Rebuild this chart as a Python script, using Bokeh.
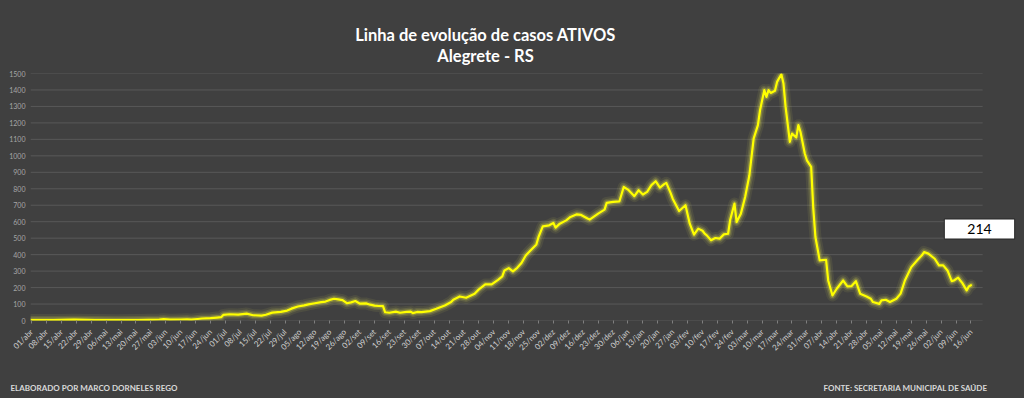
import pandas as pd
from math import pi
from bokeh.plotting import figure
from bokeh.layouts import column, row
from bokeh.models import FixedTicker, Label, Range1d
from bokeh.core.properties import value
from bokeh.embed import file_html
from bokeh.resources import INLINE

# ---------------- data ----------------
inicio = "01/04/2020"

datas = [
    "01/04/2020", "11/04/2020", "21/04/2020", "01/05/2020", "11/05/2020", "21/05/2020",
    "26/05/2020", "31/05/2020", "02/06/2020", "05/06/2020", "10/06/2020", "13/06/2020",
    "15/06/2020", "18/06/2020", "20/06/2020", "24/06/2020", "27/06/2020", "29/06/2020",
    "30/06/2020", "03/07/2020", "07/07/2020", "11/07/2020", "14/07/2020", "18/07/2020",
    "20/07/2020", "23/07/2020", "27/07/2020", "30/07/2020", "01/08/2020", "04/08/2020",
    "07/08/2020", "09/08/2020", "12/08/2020", "15/08/2020", "17/08/2020", "19/08/2020",
    "21/08/2020", "23/08/2020", "25/08/2020", "27/08/2020", "29/08/2020", "31/08/2020",
    "02/09/2020", "05/09/2020", "07/09/2020", "09/09/2020", "11/09/2020", "13/09/2020",
    "14/09/2020", "16/09/2020", "19/09/2020", "21/09/2020", "24/09/2020", "26/09/2020",
    "27/09/2020", "29/09/2020", "01/10/2020", "05/10/2020", "08/10/2020", "12/10/2020",
    "15/10/2020", "16/10/2020", "19/10/2020", "22/10/2020", "26/10/2020", "28/10/2020",
    "31/10/2020", "03/11/2020", "06/11/2020", "08/11/2020", "09/11/2020", "11/11/2020",
    "13/11/2020", "15/11/2020", "17/11/2020", "19/11/2020", "21/11/2020", "24/11/2020",
    "25/11/2020", "27/11/2020", "30/11/2020", "02/12/2020", "03/12/2020", "05/12/2020",
    "08/12/2020", "10/12/2020", "13/12/2020", "15/12/2020", "18/12/2020", "19/12/2020",
    "23/12/2020", "26/12/2020", "27/12/2020", "30/12/2020", "02/01/2021", "04/01/2021",
    "06/01/2021", "09/01/2021", "11/01/2021", "13/01/2021", "15/01/2021", "17/01/2021",
    "19/01/2021", "21/01/2021", "23/01/2021", "24/01/2021", "26/01/2021", "27/01/2021",
    "30/01/2021", "02/02/2021", "04/02/2021", "06/02/2021", "08/02/2021", "10/02/2021",
    "11/02/2021", "12/02/2021", "14/02/2021", "16/02/2021", "18/02/2021", "20/02/2021",
    "22/02/2021", "23/02/2021", "25/02/2021", "26/02/2021", "28/02/2021", "02/03/2021",
    "04/03/2021", "05/03/2021", "06/03/2021", "08/03/2021", "09/03/2021", "11/03/2021",
    "12/03/2021", "13/03/2021", "14/03/2021", "16/03/2021", "17/03/2021", "19/03/2021",
    "20/03/2021", "21/03/2021", "23/03/2021", "24/03/2021", "26/03/2021", "27/03/2021",
    "28/03/2021", "30/03/2021", "31/03/2021", "02/04/2021", "03/04/2021", "04/04/2021",
    "06/04/2021", "09/04/2021", "10/04/2021", "12/04/2021", "14/04/2021", "17/04/2021",
    "19/04/2021", "21/04/2021", "23/04/2021", "25/04/2021", "28/04/2021", "30/04/2021",
    "01/05/2021", "04/05/2021", "05/05/2021", "07/05/2021", "09/05/2021", "12/05/2021",
    "14/05/2021", "16/05/2021", "19/05/2021", "22/05/2021", "24/05/2021", "25/05/2021",
    "27/05/2021", "30/05/2021", "01/06/2021", "03/06/2021", "05/06/2021", "07/06/2021",
    "08/06/2021", "10/06/2021", "11/06/2021", "12/06/2021", "14/06/2021", "15/06/2021",
    "16/06/2021",
]

ativos = [
    3, 3, 5, 3, 2, 3,
    4, 6, 8, 5, 6, 7,
    5, 9, 12, 14, 18, 20,
    34, 38, 36, 42, 32, 30,
    35, 48, 52, 60, 72, 85,
    92, 98, 105, 112, 115, 125,
    132, 128, 124, 105, 110, 118,
    103, 104, 96, 90, 88, 87,
    50, 47, 54, 47, 52, 54,
    45, 52, 51, 57, 71, 91,
    112, 126, 146, 138, 162, 189,
    219, 219, 247, 268, 304, 318,
    298, 320, 349, 395, 422, 462,
    507, 572, 578, 592, 564, 588,
    608, 629, 645, 641, 619, 613,
    649, 673, 714, 720, 724, 811,
    795, 755, 791, 765, 781, 822,
    846, 807, 828, 836, 775, 740,
    665, 700, 588, 521, 558, 545,
    527, 517, 487, 501, 497, 523,
    527, 612, 710, 598, 649, 750,
    882, 993, 1105, 1186, 1277, 1399,
    1358, 1399, 1382, 1395, 1449, 1496,
    1439, 1297, 1085, 1135, 1111, 1186,
    1145, 1014, 973, 933, 679, 507,
    365, 369, 243, 152, 193, 243,
    207, 209, 239, 163, 146, 132,
    112, 101, 122, 126, 112, 132,
    163, 243, 324, 369, 396, 416,
    406, 375, 335, 335, 304, 239,
    243, 260, 243, 227, 183, 207,
    214,
]

rotulos_x = [
    "01/abr", "08/abr", "15/abr", "22/abr", "29/abr",
    "06/mai", "13/mai", "20/mai", "27/mai",
    "03/jun", "10/jun", "17/jun", "24/jun",
    "01/jul", "08/jul", "15/jul", "22/jul", "29/jul",
    "05/ago", "12/ago", "19/ago", "26/ago",
    "02/set", "09/set", "16/set", "23/set", "30/set",
    "07/out", "14/out", "21/out", "28/out",
    "04/nov", "11/nov", "18/nov", "25/nov",
    "02/dez", "09/dez", "16/dez", "23/dez", "30/dez",
    "06/jan", "13/jan", "20/jan", "27/jan",
    "03/fev", "10/fev", "17/fev", "24/fev",
    "03/mar", "10/mar", "17/mar", "24/mar", "31/mar",
    "07/abr", "14/abr", "21/abr", "28/abr",
    "05/mai", "12/mai", "19/mai", "26/mai",
    "02/jun", "09/jun", "16/jun",
]

ticks_y = [0, 100, 200, 300, 400, 500, 600, 700, 800, 900, 1000, 1100, 1200, 1300, 1400, 1500]

titulo = "Linha de evolução de casos ATIVOS"
subtitulo = "Alegrete - RS"
autor = "ELABORADO POR MARCO DORNELES REGO"
fonte = "FONTE: SECRETARIA MUNICIPAL DE SAÚDE"

# ---------------- derived ----------------
t0 = pd.to_datetime(inicio, format="%d/%m/%Y")
dias = [(pd.to_datetime(d, format="%d/%m/%Y") - t0).days for d in datas]
pos_x = [7 * i for i in range(len(rotulos_x))]

BG = "#404040"
FONT = "Lato"
W = 1024


def blank(h):
    f = figure(width=W, height=h, x_range=Range1d(0, W), y_range=Range1d(0, h),
               output_backend="svg", toolbar_location=None,
               x_axis_type=None, y_axis_type=None,
               background_fill_color=BG, border_fill_color=BG,
               min_border=0)
    f.title.visible = False
    f.grid.visible = False
    f.outline_line_color = None
    return f


# ---------------- header ----------------
HH = 68
head = blank(HH)
head.text(x=[485, 485], y=[HH - 34, HH - 55], text=[titulo, subtitulo],
          text_font=value(FONT), text_font_size="16.5px", text_font_style="bold",
          text_color="#ffffff", text_align="center", text_baseline="alphabetic")

# ---------------- main chart ----------------
p = figure(
    width=W, height=300,
    x_range=Range1d(-0.5, 462.4), y_range=Range1d(0, 1500),
    output_backend="svg", toolbar_location=None,
    background_fill_color=BG, border_fill_color=BG,
    min_border_left=30, min_border_right=8, min_border_top=5, min_border_bottom=48,
)
p.title.visible = False
p.outline_line_color = None
p.grid.visible = False

# horizontal grid lines across the category span only
x_ini, x_fim = -0.5, 446.5
p.segment(x0=[x_ini] * len(ticks_y), x1=[x_fim] * len(ticks_y), y0=ticks_y, y1=ticks_y,
          line_color="#585858", line_width=1)

# y axis
p.yaxis.ticker = FixedTicker(ticks=ticks_y)
p.yaxis.axis_line_color = None
p.yaxis.major_tick_line_color = None
p.yaxis.major_tick_out = 0
p.yaxis.major_tick_in = 0
p.yaxis.minor_tick_line_color = None
p.yaxis.major_label_text_font = FONT
p.yaxis.major_label_text_font_size = "7px"
p.yaxis.major_label_text_color = "#a6a6a6"
p.yaxis.major_label_standoff = 5

# x axis
p.xaxis.ticker = FixedTicker(ticks=pos_x)
p.xaxis.major_label_overrides = {x: r for x, r in zip(pos_x, rotulos_x)}
p.xaxis.major_label_orientation = pi / 4
p.xaxis.axis_line_color = None
p.xaxis.major_tick_line_color = "#7f7f7f"
p.xaxis.major_tick_in = 0
p.xaxis.major_tick_out = 3
p.xaxis.minor_tick_line_color = None
p.xaxis.major_label_text_font = FONT
p.xaxis.major_label_text_font_size = "8px"
p.xaxis.major_label_text_color = "#d0d0d0"
p.xaxis.major_label_standoff = 7

# glowing line
for w, a, c in [(12, 0.07, "#ffff66"), (8, 0.12, "#ffff66"), (5, 0.24, "#ffff33")]:
    p.line(dias, ativos, line_width=w, line_alpha=a, line_color=c, line_join="round", line_cap="round")
p.line(dias, ativos, line_width=2.2, line_color="#ffff00", line_join="round", line_cap="round")

# last value box (screen units, relative to the frame)
p.add_layout(Label(x=952, y=89.5, x_units="screen", y_units="screen", text=str(ativos[-1]),
                   text_font=FONT, text_font_size="14px", text_alpha=0.0,
                   text_align="center", text_baseline="middle",
                   background_fill_color="#262626", background_fill_alpha=0.8,
                   padding=dict(left=23, right=23, top=5, bottom=5)))
p.add_layout(Label(x=949, y=91.5, x_units="screen", y_units="screen", text=str(ativos[-1]),
                   text_font=FONT, text_font_size="14px", text_color="#000000",
                   text_align="center", text_baseline="middle",
                   background_fill_color="#ffffff", border_line_color="#262626",
                   border_line_width=1,
                   padding=dict(left=23, right=23, top=5, bottom=5)))

# ---------------- footer ----------------
FH = 30
foot = blank(FH)
foot.text(x=[10], y=[FH - 19], text=[autor],
          text_font=value(FONT), text_font_size="8px", text_font_style="bold",
          text_color="#d9d9d9", text_align="left", text_baseline="alphabetic")
foot.text(x=[987], y=[FH - 19], text=[fonte],
          text_font=value(FONT), text_font_size="8px", text_font_style="bold",
          text_color="#d9d9d9", text_align="right", text_baseline="alphabetic")

layout = column(row(head, spacing=0), p, row(foot, spacing=0), spacing=0, background=BG)

html = file_html(layout, INLINE)
html = html.replace("<head>", "<head>\n<style>html, body { background: #404040; }</style>", 1)
open("out.html", "w").write(html)
